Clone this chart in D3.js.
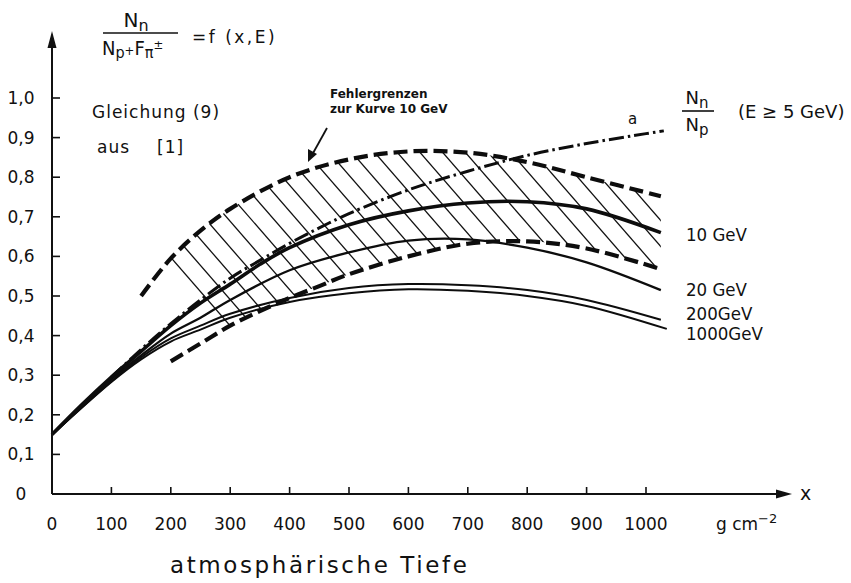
<!DOCTYPE html>
<html>
<head>
<meta charset="utf-8">
<script src="https://cdn.jsdelivr.net/npm/d3@7.9.0/dist/d3.min.js"></script>
<style>
  body { margin: 0; background: #fff; }
  svg { display: block; font-family: 'DejaVu Sans', sans-serif; }
  text { fill: #111; }
  .cond { font-family: 'DejaVu Sans Condensed', 'DejaVu Sans', sans-serif; }
</style>
</head>
<body>
<svg id="chart" width="851" height="583"></svg>
<script>
// ticks
const xTicks = [0, 100, 200, 300, 400, 500, 600, 700, 800, 900, 1000];
const yTicks = [0, 0.1, 0.2, 0.3, 0.4, 0.5, 0.6, 0.7, 0.8, 0.9, 1.0];

// curves: [depth g/cm2, N_n/(N_p+F_pi)]
const curve10 = [[0, 0.15], [50, 0.225], [100, 0.295], [150, 0.36], [200, 0.425], [250, 0.482], [300, 0.53], [350, 0.58], [400, 0.622], [500, 0.68], [600, 0.715], [700, 0.735], [800, 0.738], [900, 0.72], [1025, 0.66]];
const curve20 = [[0, 0.15], [100, 0.29], [150, 0.35], [200, 0.405], [250, 0.445], [300, 0.49], [400, 0.565], [500, 0.61], [600, 0.64], [700, 0.643], [800, 0.622], [900, 0.585], [1025, 0.515]];
const curve200 = [[0, 0.15], [100, 0.285], [150, 0.345], [200, 0.393], [250, 0.425], [300, 0.455], [400, 0.495], [500, 0.52], [600, 0.53], [700, 0.527], [800, 0.515], [900, 0.49], [1025, 0.44]];
const curve1000 = [[0, 0.15], [100, 0.283], [150, 0.34], [200, 0.385], [250, 0.415], [300, 0.445], [400, 0.485], [500, 0.507], [600, 0.517], [700, 0.513], [800, 0.5], [900, 0.475], [1035, 0.417]];
// Nn/Np (dash-dot, "a")
const curveA = [[100, 0.295], [150, 0.365], [200, 0.43], [250, 0.49], [300, 0.545], [350, 0.59], [400, 0.633], [450, 0.672], [500, 0.708], [600, 0.768], [700, 0.815], [800, 0.855], [900, 0.885], [1000, 0.91], [1030, 0.917]];
// error limits for the 10 GeV curve
const upperErr = [[150, 0.50], [200, 0.595], [250, 0.665], [300, 0.72], [400, 0.80], [500, 0.845], [600, 0.865], [700, 0.862], [800, 0.838], [900, 0.80], [1025, 0.752]];
const lowerErr = [[200, 0.335], [250, 0.38], [300, 0.425], [350, 0.462], [400, 0.495], [450, 0.525], [500, 0.555], [600, 0.60], [700, 0.632], [800, 0.638], [900, 0.62], [1025, 0.568]];

const energyLabels = [
  { text: '10 GeV', y: 241 },
  { text: '20 GeV', y: 296 },
  { text: '200GeV', y: 320 },
  { text: '1000GeV', y: 340 }
];

const svg = d3.select('#chart');

const x = d3.scaleLinear().domain([0, 1000]).range([52, 646]);
const y = d3.scaleLinear().domain([0, 1]).range([494, 98]);

const line = d3.line()
  .x(d => x(d[0]))
  .y(d => y(d[1]))
  .curve(d3.curveCatmullRom.alpha(0.5));

// hatching between the error limits
const bandPath = line(upperErr) + 'L' + line(lowerErr.slice().reverse()).slice(1) + 'Z';
svg.append('clipPath').attr('id', 'band')
  .append('path').attr('d', bandPath);

const hatch = svg.append('g').attr('clip-path', 'url(#band)');
// diagonal hatch lines, spaced ~23px, falling to the right
for (let px = 60; px < 720; px += 22.7) {
  hatch.append('line')
    .attr('x1', px).attr('y1', 130)
    .attr('x2', px + 300).attr('y2', 130 + 345)
    .attr('stroke', '#111')
    .attr('stroke-width', 1.3);
}

// curves
const curves = svg.append('g').attr('fill', 'none').attr('stroke', '#0d0d0d').attr('stroke-linecap', 'butt');

curves.append('path').attr('d', line(curve1000)).attr('stroke-width', 2);
curves.append('path').attr('d', line(curve200)).attr('stroke-width', 2);
curves.append('path').attr('d', line(curve20)).attr('stroke-width', 2.3);
curves.append('path').attr('d', line(curve10)).attr('stroke-width', 3.6);
curves.append('path').attr('d', line(curveA))
  .attr('stroke-width', 3)
  .attr('stroke-dasharray', '15,4,2.5,4');
curves.append('path').attr('d', line(upperErr))
  .attr('stroke-width', 4.2)
  .attr('stroke-dasharray', '14,6');
curves.append('path').attr('d', line(lowerErr))
  .attr('stroke-width', 4.2)
  .attr('stroke-dasharray', '14,6');

// axes
const axes = svg.append('g').attr('stroke', '#111').attr('stroke-width', 2);
axes.append('line').attr('x1', 52).attr('y1', 494).attr('x2', 782).attr('y2', 494);
axes.append('line').attr('x1', 52).attr('y1', 494).attr('x2', 52).attr('y2', 44);
svg.append('path').attr('d', 'M792,494 L776,489.5 L776,498.5 Z').attr('fill', '#111');
svg.append('path').attr('d', 'M52,31 L47.5,48 L56.5,48 Z').attr('fill', '#111');

axes.selectAll('.xt').data(xTicks.slice(1)).join('line')
  .attr('x1', d => x(d)).attr('x2', d => x(d))
  .attr('y1', 494).attr('y2', 487)
  .attr('stroke-width', 1.6);
axes.selectAll('.yt').data(yTicks.slice(1)).join('line')
  .attr('x1', 52).attr('x2', 60)
  .attr('y1', d => y(d)).attr('y2', d => y(d))
  .attr('stroke-width', 1.6);

const fmt = d => d === 0 ? '0' : d3.format('.1f')(d).replace('.', ',');

svg.append('g').selectAll('text').data(yTicks).join('text')
  .attr('x', 21).attr('y', d => y(d) + 6)
  .attr('text-anchor', 'middle')
  .style('font-size', '17px')
  .text(fmt);

svg.append('g').selectAll('text').data(xTicks).join('text')
  .attr('x', d => x(d)).attr('y', 530)
  .attr('text-anchor', 'middle')
  .style('font-size', '17px')
  .text(d => d);

svg.append('text').attr('x', 800).attr('y', 500).style('font-size', '19px').text('x');

const unit = svg.append('text').attr('x', 716).attr('y', 530).style('font-size', '17px');
unit.append('tspan').text('g cm');
unit.append('tspan').attr('dy', -7).style('font-size', '13px').text('\u22122');

svg.append('text').attr('x', 170).attr('y', 573)
  .style('font-size', '23px')
  .style('letter-spacing', '2.6px')
  .text('atmosphärische Tiefe');

// energy labels
svg.append('g').attr('class', 'cond').selectAll('text').data(energyLabels).join('text')
  .attr('x', 686).attr('y', d => d.y)
  .style('font-size', '18.5px')
  .text(d => d.text);

// formula at top
const f = svg.append('g').style('font-size', '20px');
const num = f.append('text').attr('x', 136).attr('y', 27).attr('text-anchor', 'middle');
num.append('tspan').text('N');
num.append('tspan').attr('dy', 4).style('font-size', '16px').text('n');
f.append('line').attr('x1', 103).attr('x2', 178).attr('y1', 33).attr('y2', 33).attr('stroke', '#111').attr('stroke-width', 1.6);
const den = f.append('text').attr('x', 102).attr('y', 55).attr('class', 'cond');
den.append('tspan').text('N');
den.append('tspan').attr('dy', 3).style('font-size', '16px').text('p');
den.append('tspan').attr('dy', -3).style('font-size', '13px').text('+');
den.append('tspan').text('F');
den.append('tspan').attr('dy', 3).style('font-size', '16px').text('π');
den.append('tspan').attr('dy', -9).style('font-size', '13px').text('±');
f.append('text').attr('x', 192).attr('y', 43)
  .style('font-size', '17px')
  .style('letter-spacing', '2.5px')
  .text('=f (x,E)');

const notes = svg.append('g').style('font-size', '17px').style('letter-spacing', '1px');
notes.append('text').attr('x', 92).attr('y', 118).text('Gleichung (9)');
notes.append('text').attr('x', 97).attr('y', 153).text('aus');
notes.append('text').attr('x', 157).attr('y', 153).text('[1]');

// error limit annotation
const ann = svg.append('g').style('font-size', '12px').style('font-weight', 'bold');
ann.append('text').attr('x', 330).attr('y', 98).text('Fehlergrenzen');
ann.append('text').attr('x', 330).attr('y', 113).text('zur Kurve 10 GeV');
svg.append('line').attr('x1', 327).attr('y1', 128).attr('x2', 312).attr('y2', 155).attr('stroke', '#111').attr('stroke-width', 1.8);
svg.append('path').attr('d', 'M308,162 L308,149 L317,154 Z').attr('fill', '#111');

// Nn/Np label
const g2 = svg.append('g').style('font-size', '18px');
const n2 = g2.append('text').attr('x', 697).attr('y', 104).attr('text-anchor', 'middle');
n2.append('tspan').text('N');
n2.append('tspan').attr('dy', 4).style('font-size', '15px').text('n');
g2.append('line').attr('x1', 682).attr('x2', 714).attr('y1', 111).attr('y2', 111).attr('stroke', '#111').attr('stroke-width', 1.6);
const d2 = g2.append('text').attr('x', 697).attr('y', 131).attr('text-anchor', 'middle');
d2.append('tspan').text('N');
d2.append('tspan').attr('dy', 4).style('font-size', '15px').text('p');
g2.append('text').attr('x', 738).attr('y', 118).style('font-size', '18px').text('(E ≥ 5 GeV)');
svg.append('text').attr('x', 628).attr('y', 124).style('font-size', '15px').text('a');
</script>
</body>
</html>
